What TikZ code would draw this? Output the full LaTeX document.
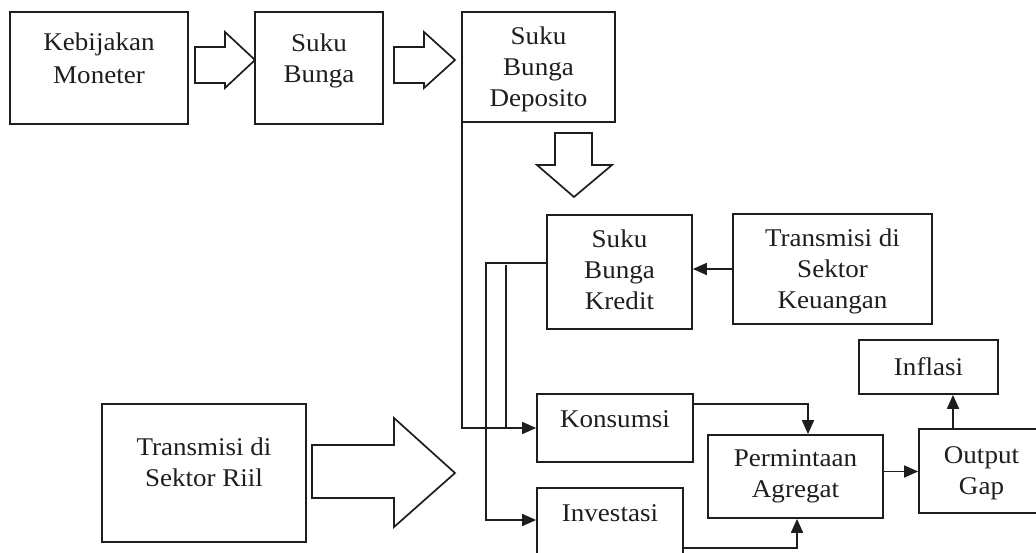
\documentclass[tikz,border=0pt]{standalone}
\usepackage{fontspec}
\setmainfont{Liberation Serif}[FakeStretch=1.06]
\usetikzlibrary{arrows.meta,calc}
\definecolor{lc}{HTML}{1E1E1E}
\begin{document}
\begin{tikzpicture}[x=1pt,y=-1pt,
  box/.style={draw=lc, line width=1.7pt, inner sep=0pt},
  txt/.style={anchor=north, inner sep=0pt, align=center, text=lc, font=\fontsize{25.5}{31}\selectfont},
  conn/.style={draw=lc, line width=1.7pt, -{Triangle[length=14pt,width=12pt]}},
  plain/.style={draw=lc, line width=1.7pt},
  block/.style={draw=lc, line width=1.7pt, fill=white, line join=miter}]
\useasboundingbox (0,0) rectangle (1036,553);
\clip (0,0) rectangle (1036,553);
\fill[white] (0,0) rectangle (1036,553);

% boxes
\node[box, minimum width=178pt, minimum height=112pt] (km)  at (99,68) {};
\node[box, minimum width=128pt, minimum height=112pt] (sb)  at (319,68) {};
\node[box, minimum width=153pt, minimum height=110pt] (sbd) at (538.5,67) {};
\node[box, minimum width=145pt, minimum height=114pt] (sbk) at (619.5,272) {};
\node[box, minimum width=199pt, minimum height=110pt] (tk)  at (832.5,269) {};
\node[box, minimum width=204pt, minimum height=138pt] (tr)  at (204,473) {};
\node[box, minimum width=156pt, minimum height=68pt]  (kon) at (615,428) {};
\node[box, minimum width=146pt, minimum height=82pt]  (inv) at (610,529) {};
\node[box, minimum width=175pt, minimum height=83pt]  (pa)  at (795.5,476.5) {};
\node[box, minimum width=125pt, minimum height=84pt]  (og)  at (981.5,471) {};
\node[box, minimum width=139pt, minimum height=54pt]  (inf) at (928.5,367) {};

% texts
\node[txt] (kmt)  at ($(km.north)+(0,21)$)  {Kebijakan\\[2pt]Moneter};
\node[txt] (sbt)  at ($(sb.north)+(0,22)$)  {Suku\\Bunga};
\node[txt] (sbdt) at ($(sbd.north)+(0,15)$) {Suku\\Bunga\\Deposito};
\node[txt] (sbkt) at ($(sbk.north)+(0,15)$) {Suku\\Bunga\\Kredit};
\node[txt] (tkt)  at ($(tk.north)+(0,15)$)  {Transmisi di\\Sektor\\Keuangan};
\node[txt] (trt)  at ($(tr.north)+(0,34)$)  {Transmisi di\\Sektor Riil};
\node[txt] (kont) at ($(kon.north)+(0,17)$) {Konsumsi};
\node[txt] (invt) at ($(inv.north)+(0,17)$) {Investasi};
\node[txt] (pat)  at ($(pa.north)+(0,15)$)  {Permintaan\\Agregat};
\node[txt] (ogt)  at ($(og.north)+(0,18)$)  {Output\\Gap};
\node[txt] (inft) at ($(inf.north)+(0,18)$) {Inflasi};

% hollow block arrows
\draw[block] (195,47) -- (225,47) -- (225,32) -- (255,60) -- (225,88) -- (225,83) -- (195,83) -- cycle;
\draw[block] (394,47) -- (424,47) -- (424,32) -- (455,60) -- (424,88) -- (424,83) -- (394,83) -- cycle;
\draw[block] (555,133) -- (592,133) -- (592,165) -- (612,165) -- (574,197) -- (537,165) -- (555,165) -- cycle;
\draw[block] (312,445) -- (394,445) -- (394,418) -- (455,473) -- (394,527) -- (394,498) -- (312,498) -- cycle;

% connectors
\coordinate (kl) at ($(sbk.west)+(0,-9)$);
\coordinate (invin) at ($(inv.west)+(0,-9)$);
\coordinate (dep) at ($(sbd.south west)+(1,0)$);
\coordinate (v2top) at ($(kl)+(-40,2)$);
\coordinate (v2bot) at ($(kon.west)+(-30,0)$);
\coordinate (konout) at ($(kon.east)+(0,-24)$);
\coordinate (pain) at ($(pa.north)+(12.5,0)$);
\coordinate (invout) at ($(inv.east)+(0,19)$);
\coordinate (pain2) at ($(pa.south)+(1.5,0)$);
\coordinate (paout) at ($(pa.east)+(0,-5)$);
\coordinate (ogout) at ($(og.north)+(-28.5,0)$);
\coordinate (infin) at ($(inf.south)+(24.5,0)$);

\draw[conn] (tk.west) -- (sbk.east |- tk.west);
\draw[conn] (kl) -- ++(-60,0) |- (invin);
\draw[plain] (v2top) -- (v2bot);
\draw[conn] (dep) |- (kon.west);
\draw[conn] (konout) -| (pain);
\draw[conn] (invout) -| (pain2);
\draw[conn] (paout) -- (og.west |- paout);
\draw[conn] (ogout) -- (infin);
\end{tikzpicture}
\end{document}
